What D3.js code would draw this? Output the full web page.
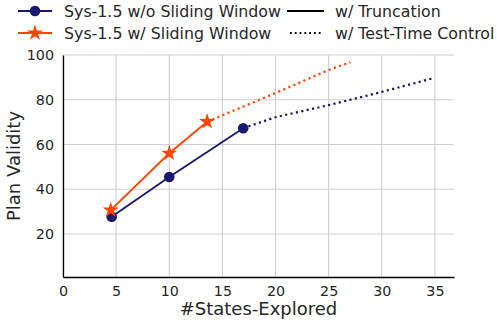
<!DOCTYPE html>
<html>
<head>
<meta charset="utf-8">
<script src="https://cdn.jsdelivr.net/npm/d3@7"></script>
<style>
  body { margin: 0; background: #fff; }
  svg { font-family: "DejaVu Sans", sans-serif; }
</style>
</head>
<body>
<div id="chart"></div>
<script>
// values
var noWindowStates = [4.58, 10, 16.96]
var noWindowValid = [27.7, 45.5, 67.3]
var noWindowCtrlStates = [16.96, 20, 25, 30, 34.9]
var noWindowCtrlValid = [67.3, 72.2, 77.6, 83.5, 89.7]

var windowStates = [4.49, 10, 13.57]
var windowValid = [30.7, 56.1, 70.2]
var windowCtrlStates = [13.57, 20, 25, 27.06]
var windowCtrlValid = [70.2, 83.0, 93.3, 96.8]

var xTicks = [0, 5, 10, 15, 20, 25, 30, 35]
var yTicks = [20, 40, 60, 80, 100]

var navy = "#191970", orange = "#ff4500"

var width = 497, height = 322
var margin = {top: 55, right: 43, bottom: 45, left: 63}

var svg = d3.select("#chart")
    .append("svg")
    .attr("width", width)
    .attr("height", height)

var x = d3.scaleLinear()
    .domain([0, 36.8])
    .range([margin.left, width - margin.right])

var y = d3.scaleLinear()
    .domain([0.8, 100])
    .range([height - margin.bottom, margin.top])

// grid
svg.append("g")
  .selectAll("line")
  .data(xTicks)
  .enter().append("line")
    .attr("x1", function(d) { return x(d) })
    .attr("x2", function(d) { return x(d) })
    .attr("y1", y.range()[0])
    .attr("y2", y.range()[1])
    .attr("stroke", "#d0d0d0")
    .attr("stroke-width", 1.1)

svg.append("g")
  .selectAll("line")
  .data(yTicks)
  .enter().append("line")
    .attr("x1", x.range()[0])
    .attr("x2", x.range()[1])
    .attr("y1", function(d) { return y(d) })
    .attr("y2", function(d) { return y(d) })
    .attr("stroke", "#d0d0d0")
    .attr("stroke-width", 1.1)

// axes
var xAxis = svg.append("g")
    .attr("transform", "translate(0," + y.range()[0] + ")")
    .call(d3.axisBottom(x).tickValues(xTicks).tickSize(0).tickPadding(9))
var yAxis = svg.append("g")
    .attr("transform", "translate(" + x.range()[0] + ",0)")
    .call(d3.axisLeft(y).tickValues(yTicks).tickSize(0).tickPadding(9))

xAxis.select(".domain").attr("stroke", "#000").attr("stroke-width", 1.3)
yAxis.select(".domain").attr("stroke", "#000").attr("stroke-width", 1.3)
svg.selectAll(".tick text")
    .attr("fill", "#262626")
    .style("font-size", "14.3px")
    .style("font-family", "DejaVu Sans")

svg.append("text")
    .attr("x", (x.range()[0] + x.range()[1]) / 2)
    .attr("y", 315)
    .attr("text-anchor", "middle")
    .attr("fill", "#262626")
    .style("font-size", "18px")
    .text("#States-Explored")

svg.append("text")
    .attr("transform", "translate(20," + ((y.range()[0] + y.range()[1]) / 2) + ") rotate(-90)")
    .attr("text-anchor", "middle")
    .attr("fill", "#262626")
    .style("font-size", "18px")
    .text("Plan Validity")

var line = d3.line()
    .x(function(d) { return x(d[0]) })
    .y(function(d) { return y(d[1]) })

function pairs(a, b) {
  return a.map(function(d, i) { return [d, b[i]] })
}

var star = d3.symbol().type(d3.symbolStar).size(80)

// dotted continuations
svg.append("path")
    .attr("d", line(pairs(noWindowCtrlStates, noWindowCtrlValid)))
    .attr("fill", "none")
    .attr("stroke", navy)
    .attr("stroke-width", 2.2)
    .attr("stroke-dasharray", "2.2,3.3")
svg.append("path")
    .attr("d", line(pairs(windowCtrlStates, windowCtrlValid)))
    .attr("fill", "none")
    .attr("stroke", orange)
    .attr("stroke-width", 2.2)
    .attr("stroke-dasharray", "2.2,3.3")

// solid lines
svg.append("path")
    .attr("d", line(pairs(noWindowStates, noWindowValid)))
    .attr("fill", "none")
    .attr("stroke", navy)
    .attr("stroke-width", 1.8)
svg.append("path")
    .attr("d", line(pairs(windowStates, windowValid)))
    .attr("fill", "none")
    .attr("stroke", orange)
    .attr("stroke-width", 1.8)

// markers
svg.append("g")
  .selectAll("circle")
  .data(pairs(noWindowStates, noWindowValid))
  .enter().append("circle")
    .attr("cx", function(d) { return x(d[0]) })
    .attr("cy", function(d) { return y(d[1]) })
    .attr("r", 5.3)
    .attr("fill", navy)

svg.append("g")
  .selectAll("path")
  .data(pairs(windowStates, windowValid))
  .enter().append("path")
    .attr("d", star)
    .attr("transform", function(d) { return "translate(" + x(d[0]) + "," + y(d[1]) + ")" })
    .attr("fill", orange)

// legend
var leg = svg.append("g").style("font-size", "15.8px").attr("fill", "#262626")

leg.append("line").attr("x1", 18).attr("x2", 52).attr("y1", 11).attr("y2", 11)
    .attr("stroke", navy).attr("stroke-width", 1.8)
leg.append("circle").attr("cx", 35).attr("cy", 11).attr("r", 5.3).attr("fill", navy)
leg.append("text").attr("x", 64).attr("y", 16.5).text("Sys-1.5 w/o Sliding Window")

leg.append("line").attr("x1", 18).attr("x2", 52).attr("y1", 33).attr("y2", 33)
    .attr("stroke", orange).attr("stroke-width", 1.8)
leg.append("path").attr("d", star).attr("transform", "translate(35,33)").attr("fill", orange)
leg.append("text").attr("x", 64).attr("y", 38.5).text("Sys-1.5 w/ Sliding Window")

leg.append("line").attr("x1", 287).attr("x2", 324).attr("y1", 11).attr("y2", 11)
    .attr("stroke", "#000").attr("stroke-width", 1.8)
leg.append("text").attr("x", 335).attr("y", 16.5).text("w/ Truncation")

leg.append("line").attr("x1", 290).attr("x2", 322).attr("y1", 33).attr("y2", 33)
    .attr("stroke", "#000").attr("stroke-width", 1.8).attr("stroke-dasharray", "1.8,3")
leg.append("text").attr("x", 335).attr("y", 38.5).text("w/ Test-Time Control")
</script>
</body>
</html>
